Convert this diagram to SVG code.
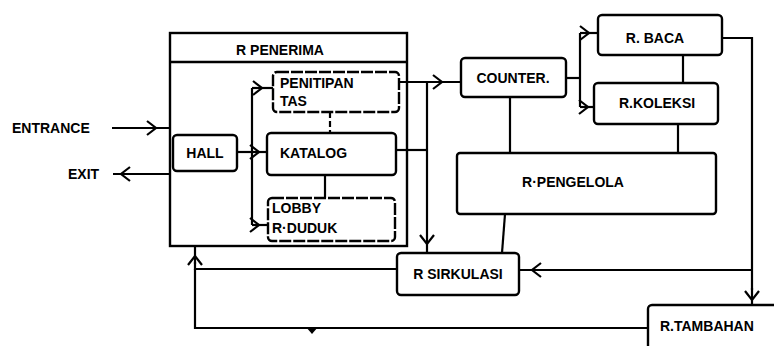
<svg xmlns="http://www.w3.org/2000/svg" width="774" height="346" viewBox="0 0 774 346">
<style>
.box{fill:none;stroke:#000;stroke-width:2.4}
.dash{fill:none;stroke:#000;stroke-width:2.4;stroke-dasharray:12 2}
.ln{fill:none;stroke:#000;stroke-width:2.2}
.t{font-family:"Liberation Sans",Arial,sans-serif;font-weight:bold;font-size:14px;fill:#000}
.tc{text-anchor:middle}
</style>
<defs>
<marker id="chev" markerUnits="userSpaceOnUse" viewBox="-11 -9 13 18" refX="0" refY="0" markerWidth="13" markerHeight="18" orient="auto">
<path d="M-9,-7 L0,0 L-9,7" fill="none" stroke="#000" stroke-width="2.2"/>
</marker>
</defs>
<rect width="774" height="346" fill="#fff"/>

<g id="connectors">
<path class="ln" d="M112,128 H156 H170" marker-mid="url(#chev)"/>
<text class="t" x="12" y="133">ENTRANCE</text>
<path class="ln" d="M170,174 H121 H113" marker-mid="url(#chev)"/>
<text class="t" x="68" y="179">EXIT</text>
<path class="ln" d="M237,152 H259 H267" marker-mid="url(#chev)"/>
<path class="ln" d="M252,88 V225"/>
<path class="ln" d="M252,88 H262 H273" marker-mid="url(#chev)"/>
<path class="ln" d="M252,225 H259 H268" marker-mid="url(#chev)"/>
<path class="ln" d="M330,112 V133" stroke-dasharray="6 3"/>
<path class="ln" d="M325,175 V198"/>
<path class="ln" d="M399,82 H442 H461" marker-mid="url(#chev)"/>
<path class="ln" d="M427,82 V244 V253" marker-mid="url(#chev)"/>
<path class="ln" d="M396,150 H427"/>
<path class="ln" d="M566,78 H580"/>
<path class="ln" d="M580,33 V107"/>
<path class="ln" d="M580,33 H589 H598" marker-mid="url(#chev)"/>
<path class="ln" d="M580,107 H588 H594" marker-mid="url(#chev)"/>
<path class="ln" d="M510,97 V153"/>
<path class="ln" d="M683,55 V83"/>
<path class="ln" d="M678,124 V153"/>
<path class="ln" d="M722,38 H752 V290"/>
<path class="ln" d="M752,288 V300 V305" marker-mid="url(#chev)"/>
<path class="ln" d="M752,270 H532 H519" marker-mid="url(#chev)"/>
<path class="ln" d="M505,214 L502,253"/>
<path class="ln" d="M397,269 H195 V262"/>
<path class="ln" d="M195,264 V256 V247" marker-mid="url(#chev)"/>
<path class="ln" d="M195,269 V328 H648"/>
<path d="M306,327 L318,327 L312,334 Z" fill="#000"/>
</g>

<g id="r-penerima">
<rect class="box" x="170" y="33" width="237" height="213"/>
<path class="box" d="M170,62 H407"/>
<text class="t tc" x="280" y="55">R PENERIMA</text>
</g>

<g id="hall">
<rect class="box" x="173" y="135" width="64" height="36" rx="4"/>
<text class="t tc" x="205" y="158">HALL</text>
</g>

<g id="penitipan-tas">
<rect class="dash" x="273" y="72" width="126" height="40" rx="4"/>
<text class="t" x="280" y="88">PENITIPAN</text>
<text class="t" x="280" y="106">TAS</text>
</g>

<g id="katalog">
<rect class="box" x="267" y="133" width="129" height="42" rx="4"/>
<text class="t" x="280" y="158">KATALOG</text>
</g>

<g id="lobby">
<rect class="dash" x="268" y="198" width="127" height="43" rx="4"/>
<text class="t" x="272" y="213">LOBBY</text>
<text class="t" x="272" y="233">R·DUDUK</text>
</g>

<g id="counter">
<rect class="box" x="461" y="58" width="105" height="39" rx="4"/>
<text class="t tc" x="513" y="83">COUNTER.</text>
</g>

<g id="r-baca">
<rect class="box" x="598" y="15" width="124" height="40" rx="4"/>
<text class="t tc" x="655" y="43">R. BACA</text>
</g>

<g id="r-koleksi">
<rect class="box" x="594" y="83" width="124" height="41" rx="4"/>
<text class="t tc" x="657" y="108">R.KOLEKSI</text>
</g>

<g id="r-pengelola">
<rect class="box" x="457" y="153" width="259" height="61" rx="3"/>
<text class="t tc" x="573" y="187">R·PENGELOLA</text>
</g>

<g id="r-sirkulasi">
<rect class="box" x="397" y="253" width="122" height="42" rx="4"/>
<text class="t tc" x="458" y="279">R SIRKULASI</text>
</g>

<g id="r-tambahan">
<rect class="box" x="648" y="305" width="140" height="50" rx="4"/>
<text class="t" x="660" y="331">R.TAMBAHAN</text>
</g>
</svg>
